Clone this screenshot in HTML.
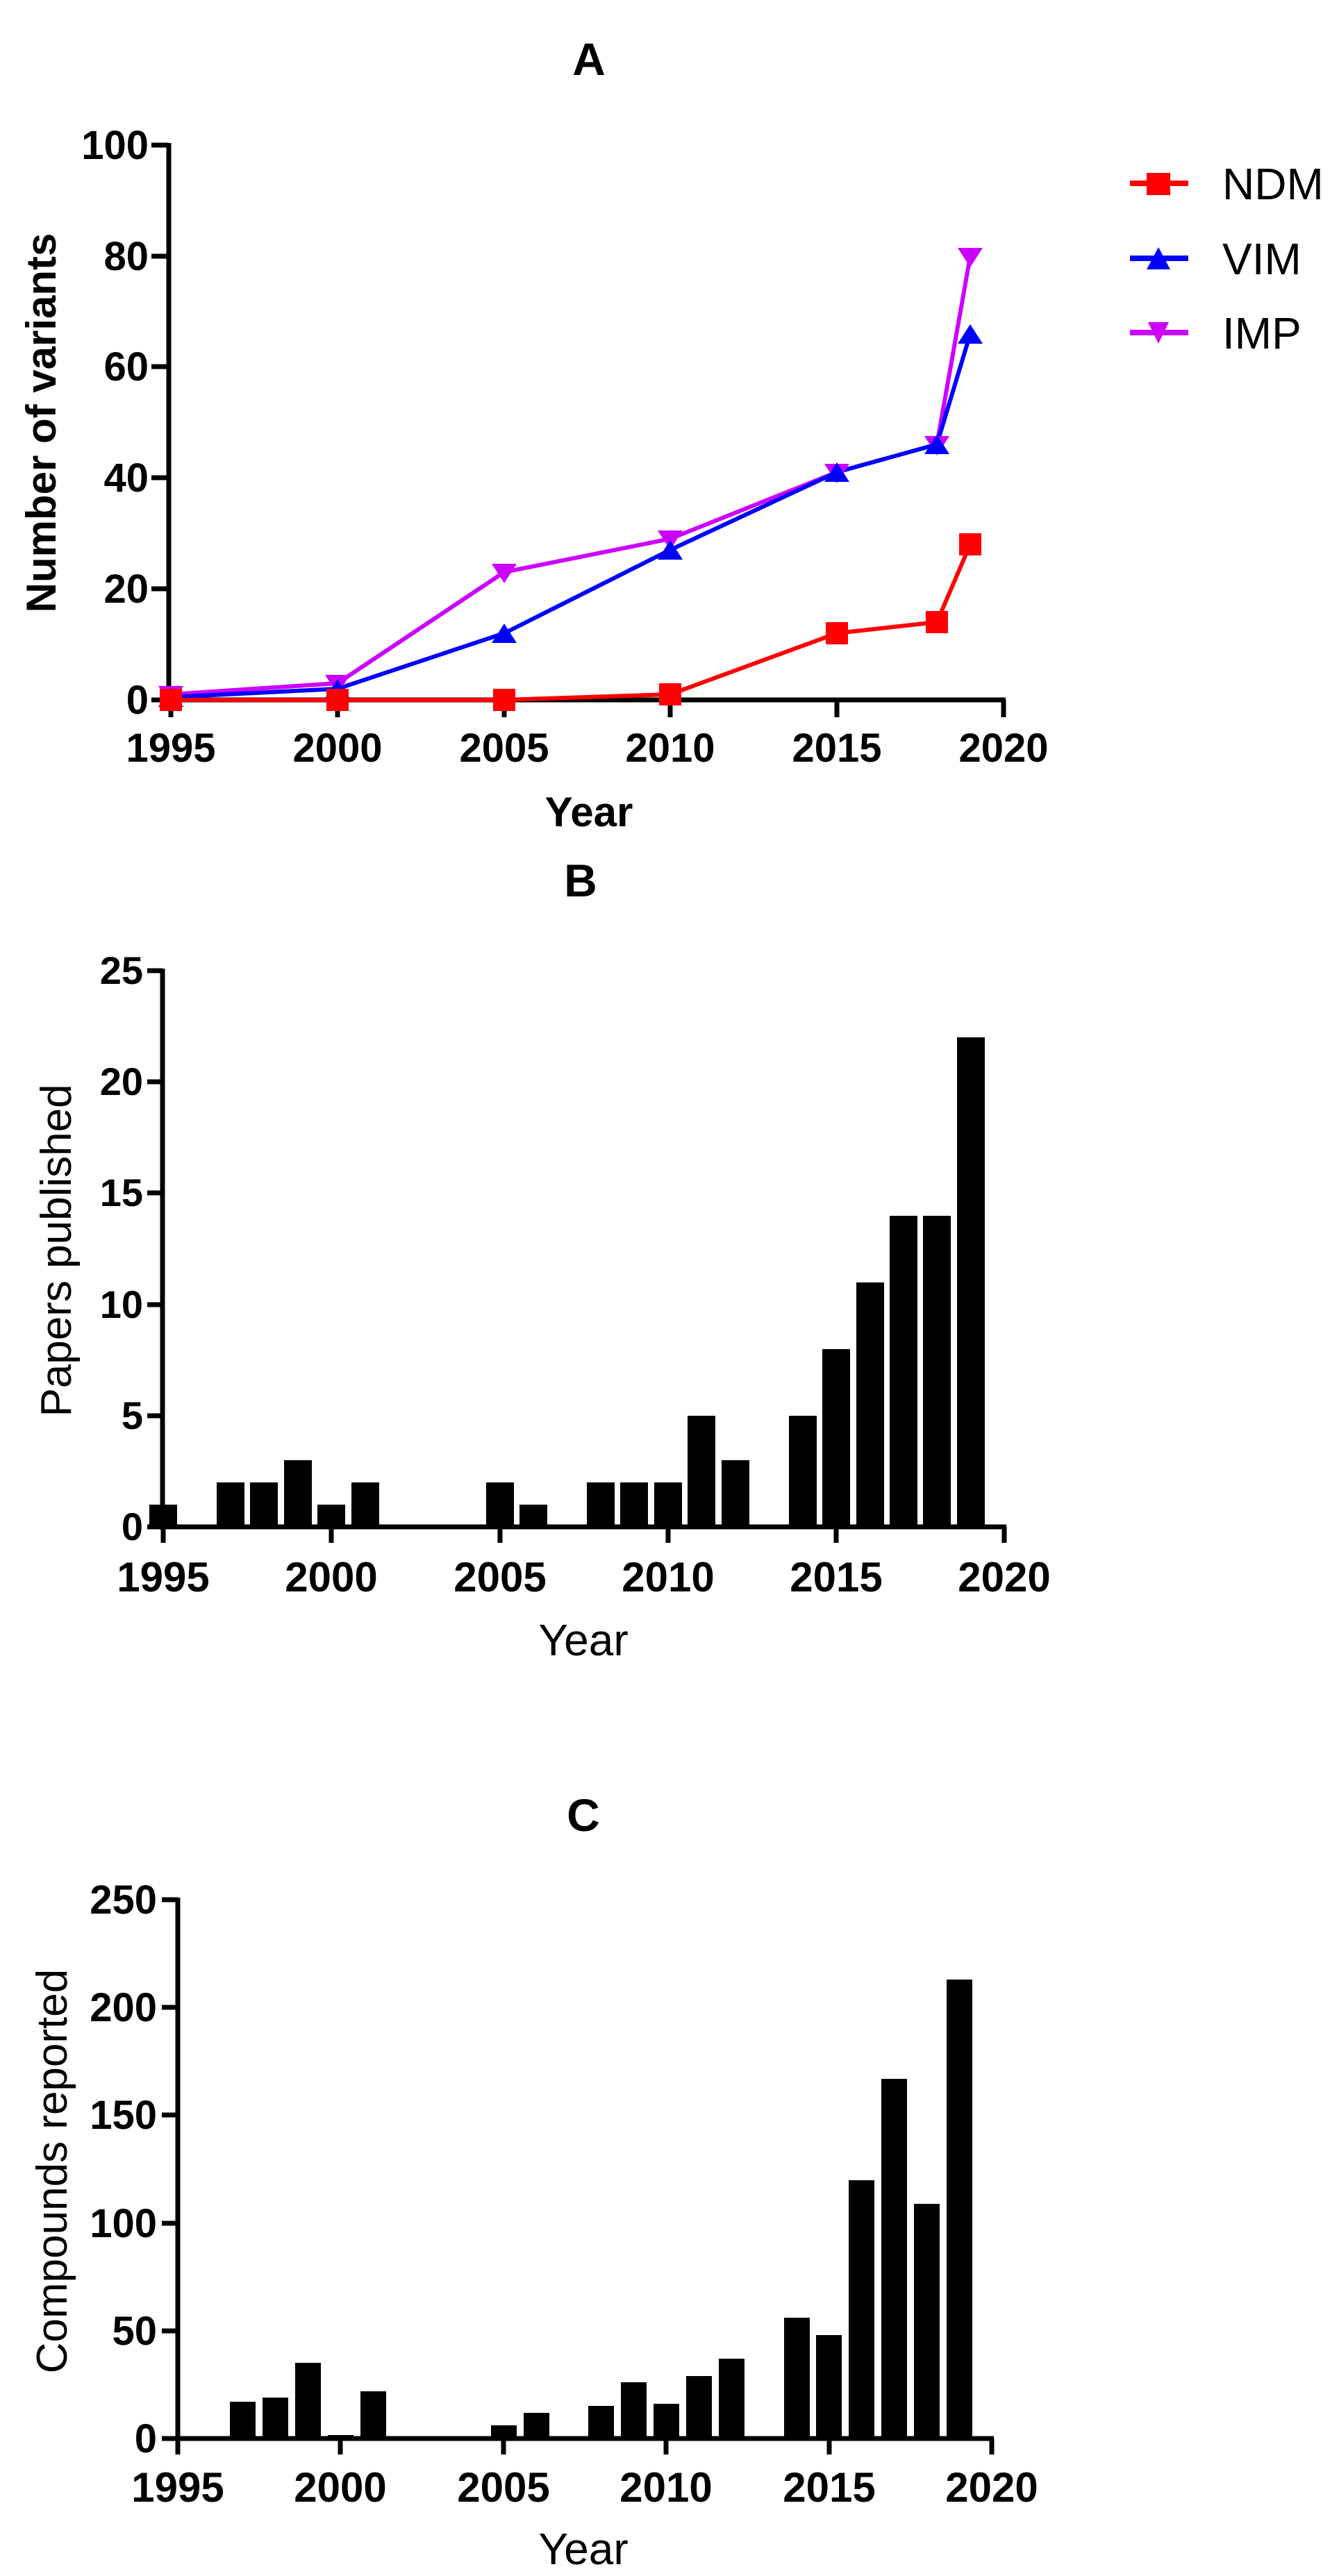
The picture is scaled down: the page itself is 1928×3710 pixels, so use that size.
<!DOCTYPE html>
<html><head><meta charset="utf-8"><style>
html,body{margin:0;padding:0;background:#fff;}
svg{display:block;}
.b{font-family:"Liberation Sans",Arial,sans-serif;font-weight:bold;fill:#000;}
.n{font-family:"Liberation Sans Narrow","Liberation Sans",Arial,sans-serif;font-weight:bold;fill:#000;}
.r{font-family:"Liberation Sans",Arial,sans-serif;fill:#000;}
</style></head><body>
<svg width="1928" height="3710" viewBox="0 0 1928 3710" xmlns="http://www.w3.org/2000/svg">
<rect width="1928" height="3710" fill="#fff"/>
<text class="b" x="848" y="108" font-size="66" text-anchor="middle">A</text>
<g stroke="#000" stroke-width="7" fill="none">
<line x1="243" y1="206" x2="243" y2="1012"/>
<line x1="240" y1="1008" x2="1448" y2="1008"/>
<line x1="218" y1="209" x2="243" y2="209"/>
<line x1="218" y1="369" x2="243" y2="369"/>
<line x1="218" y1="528" x2="243" y2="528"/>
<line x1="218" y1="688" x2="243" y2="688"/>
<line x1="218" y1="848" x2="243" y2="848"/>
<line x1="218" y1="1008" x2="243" y2="1008"/>
<line x1="246" y1="1008" x2="246" y2="1033"/>
<line x1="486" y1="1008" x2="486" y2="1033"/>
<line x1="726" y1="1008" x2="726" y2="1033"/>
<line x1="965" y1="1008" x2="965" y2="1033"/>
<line x1="1205" y1="1008" x2="1205" y2="1033"/>
<line x1="1445" y1="1008" x2="1445" y2="1033"/>
</g>
<g class="b" font-size="58" text-anchor="end">
<text x="214" y="229">100</text><text x="214" y="389">80</text><text x="214" y="548">60</text>
<text x="214" y="708">40</text><text x="214" y="868">20</text><text x="214" y="1028">0</text>
</g>
<g class="b" font-size="58" text-anchor="middle">
<text x="246" y="1097">1995</text><text x="486" y="1097">2000</text><text x="726" y="1097">2005</text>
<text x="965" y="1097">2010</text><text x="1205" y="1097">2015</text><text x="1445" y="1097">2020</text>
</g>
<text class="b" x="848" y="1190" font-size="60" text-anchor="middle">Year</text>
<text class="b" font-size="60" text-anchor="middle" transform="translate(80,609) rotate(-90)">Number of variants</text>
<polyline fill="none" stroke="#cc00ff" stroke-width="6" points="246,1000 486,984 726,824 965,776 1205,680 1349,640 1397,369"/>
<polyline fill="none" stroke="#0000ff" stroke-width="6" points="246,1004 486,992 726,912 965,792 1205,680 1349,640 1397,481"/>
<polyline fill="none" stroke="#ff0000" stroke-width="6" points="246,1008 486,1008 726,1008 965,1000 1205,912 1349,896 1397,784"/>
<g fill="#cc00ff">
<polygon points="228,988 264,988 246,1016"/><polygon points="468,972 504,972 486,1000"/>
<polygon points="708,812 744,812 726,840"/><polygon points="947,764 983,764 965,792"/>
<polygon points="1187,668 1223,668 1205,696"/><polygon points="1331,628 1367,628 1349,656"/>
<polygon points="1379,357 1415,357 1397,385"/>
</g>
<g fill="#0000ff">
<polygon points="228,1018 264,1018 246,990"/><polygon points="468,1006 504,1006 486,978"/>
<polygon points="708,926 744,926 726,898"/><polygon points="947,806 983,806 965,778"/>
<polygon points="1187,694 1223,694 1205,666"/><polygon points="1331,654 1367,654 1349,626"/>
<polygon points="1379,495 1415,495 1397,467"/>
</g>
<g fill="#ff0000">
<rect x="230" y="992" width="32" height="32"/><rect x="470" y="992" width="32" height="32"/>
<rect x="710" y="992" width="32" height="32"/><rect x="949" y="984" width="32" height="32"/>
<rect x="1189" y="896" width="32" height="32"/><rect x="1333" y="880" width="32" height="32"/>
<rect x="1381" y="768" width="32" height="32"/>
</g>
<line x1="1627" y1="264" x2="1711" y2="264" stroke="#ff0000" stroke-width="8"/>
<rect x="1651" y="249" width="34" height="32" fill="#ff0000"/>
<line x1="1627" y1="372" x2="1711" y2="372" stroke="#0000ff" stroke-width="8"/>
<polygon points="1651,388 1685,388 1668,356" fill="#0000ff"/>
<line x1="1627" y1="479" x2="1711" y2="479" stroke="#cc00ff" stroke-width="8"/>
<polygon points="1653,464 1683,464 1668,495" fill="#cc00ff"/>
<g class="r" font-size="64">
<text x="1760" y="287">NDM</text><text x="1760" y="395">VIM</text><text x="1760" y="502">IMP</text>
</g>
<text class="b" x="836" y="1291" font-size="66" text-anchor="middle">B</text>
<g fill="#000">
<rect x="215" y="2167" width="40" height="32"/>
<rect x="312" y="2135" width="40" height="64"/>
<rect x="360" y="2135" width="40" height="64"/>
<rect x="409" y="2103" width="40" height="96"/>
<rect x="457" y="2167" width="40" height="32"/>
<rect x="506" y="2135" width="40" height="64"/>
<rect x="700" y="2135" width="40" height="64"/>
<rect x="748" y="2167" width="40" height="32"/>
<rect x="845" y="2135" width="40" height="64"/>
<rect x="893" y="2135" width="40" height="64"/>
<rect x="942" y="2135" width="40" height="64"/>
<rect x="990" y="2039" width="40" height="160"/>
<rect x="1039" y="2103" width="40" height="96"/>
<rect x="1136" y="2039" width="40" height="160"/>
<rect x="1184" y="1943" width="40" height="256"/>
<rect x="1233" y="1847" width="40" height="352"/>
<rect x="1281" y="1751" width="40" height="448"/>
<rect x="1329" y="1751" width="40" height="448"/>
<rect x="1378" y="1494" width="40" height="705"/>
</g>
<g stroke="#000" stroke-width="7" fill="none">
<line x1="234" y1="1395" x2="234" y2="2203"/>
<line x1="231" y1="2199" x2="1449" y2="2199"/>
<line x1="212" y1="1398" x2="234" y2="1398"/>
<line x1="212" y1="1558" x2="234" y2="1558"/>
<line x1="212" y1="1718" x2="234" y2="1718"/>
<line x1="212" y1="1879" x2="234" y2="1879"/>
<line x1="212" y1="2039" x2="234" y2="2039"/>
<line x1="212" y1="2199" x2="234" y2="2199"/>
<line x1="235" y1="2199" x2="235" y2="2222"/>
<line x1="477" y1="2199" x2="477" y2="2222"/>
<line x1="720" y1="2199" x2="720" y2="2222"/>
<line x1="962" y1="2199" x2="962" y2="2222"/>
<line x1="1204" y1="2199" x2="1204" y2="2222"/>
<line x1="1446" y1="2199" x2="1446" y2="2222"/>
</g>
<g class="n" font-size="56" text-anchor="end">
<text x="206" y="1417">25</text><text x="206" y="1577">20</text><text x="206" y="1737">15</text>
<text x="206" y="1898">10</text><text x="206" y="2058">5</text><text x="206" y="2218">0</text>
</g>
<g class="n" font-size="60" text-anchor="middle">
<text x="235" y="2292">1995</text><text x="477" y="2292">2000</text><text x="720" y="2292">2005</text>
<text x="962" y="2292">2010</text><text x="1204" y="2292">2015</text><text x="1446" y="2292">2020</text>
</g>
<text class="r" x="840" y="2384" font-size="64" text-anchor="middle">Year</text>
<text class="r" font-size="62" text-anchor="middle" transform="translate(102,1801) rotate(-90)">Papers published</text>
<text class="b" x="840" y="2637" font-size="66" text-anchor="middle">C</text>
<g fill="#000">
<rect x="238" y="3509" width="37" height="3"/>
<rect x="331" y="3459" width="37" height="53"/>
<rect x="378" y="3453" width="37" height="59"/>
<rect x="425" y="3403" width="37" height="109"/>
<rect x="472" y="3507" width="37" height="5"/>
<rect x="519" y="3444" width="37" height="68"/>
<rect x="707" y="3493" width="37" height="19"/>
<rect x="754" y="3475" width="37" height="37"/>
<rect x="847" y="3465" width="37" height="47"/>
<rect x="894" y="3431" width="37" height="81"/>
<rect x="941" y="3462" width="37" height="50"/>
<rect x="988" y="3422" width="37" height="90"/>
<rect x="1035" y="3397" width="37" height="115"/>
<rect x="1129" y="3338" width="37" height="174"/>
<rect x="1175" y="3363" width="37" height="149"/>
<rect x="1222" y="3140" width="37" height="372"/>
<rect x="1269" y="2994" width="37" height="518"/>
<rect x="1316" y="3174" width="37" height="338"/>
<rect x="1363" y="2851" width="37" height="661"/>
</g>
<g stroke="#000" stroke-width="7" fill="none">
<line x1="256" y1="2733" x2="256" y2="3516"/>
<line x1="253" y1="3512" x2="1431" y2="3512"/>
<line x1="233" y1="2736" x2="256" y2="2736"/>
<line x1="233" y1="2891" x2="256" y2="2891"/>
<line x1="233" y1="3046" x2="256" y2="3046"/>
<line x1="233" y1="3202" x2="256" y2="3202"/>
<line x1="233" y1="3357" x2="256" y2="3357"/>
<line x1="233" y1="3512" x2="256" y2="3512"/>
<line x1="256" y1="3512" x2="256" y2="3535"/>
<line x1="490" y1="3512" x2="490" y2="3535"/>
<line x1="725" y1="3512" x2="725" y2="3535"/>
<line x1="959" y1="3512" x2="959" y2="3535"/>
<line x1="1194" y1="3512" x2="1194" y2="3535"/>
<line x1="1428" y1="3512" x2="1428" y2="3535"/>
</g>
<g class="n" font-size="58" text-anchor="end">
<text x="226" y="2756">250</text><text x="226" y="2911">200</text><text x="226" y="3066">150</text>
<text x="226" y="3222">100</text><text x="226" y="3377">50</text><text x="226" y="3532">0</text>
</g>
<g class="n" font-size="60" text-anchor="middle">
<text x="256" y="3603">1995</text><text x="490" y="3603">2000</text><text x="725" y="3603">2005</text>
<text x="959" y="3603">2010</text><text x="1194" y="3603">2015</text><text x="1428" y="3603">2020</text>
</g>
<text class="r" x="840" y="3693" font-size="64" text-anchor="middle">Year</text>
<text class="r" font-size="62" text-anchor="middle" transform="translate(96,3127) rotate(-90)">Compounds reported</text>
</svg>
</body></html>
